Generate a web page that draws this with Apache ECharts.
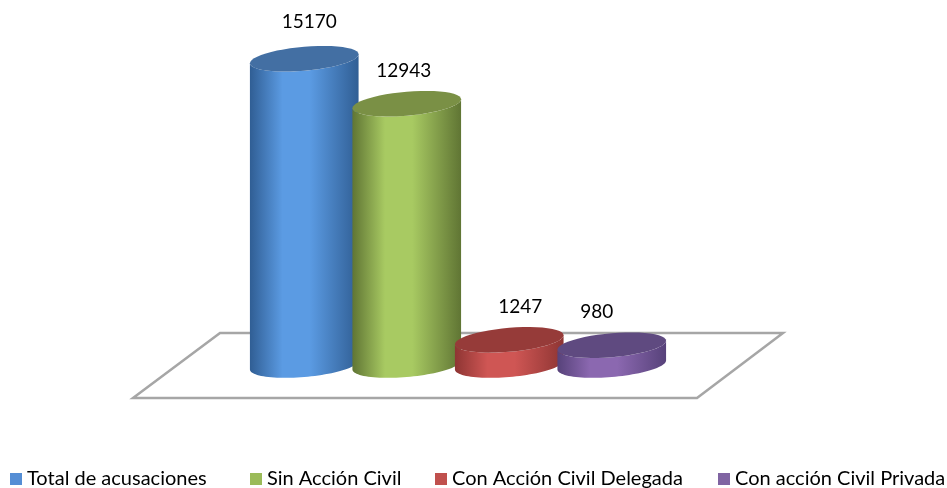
<!DOCTYPE html>
<html>
<head>
<meta charset="utf-8">
<style>
html,body{margin:0;padding:0;background:#fff;}
#chart{width:947px;height:488px;}
</style>
<script src="https://cdn.jsdelivr.net/npm/echarts@6/dist/echarts.min.js"></script>
</head>
<body>
<div id="chart"></div>
<script>
//数据
var categories=["Total de acusaciones","Sin Acción Civil","Con Acción Civil Delegada","Con acción Civil Privada"];
var values=[15170,12943,1247,980];

//颜色: 图例, 柱子边缘, 柱子中间, 顶面
var legendColors=['#558ed5','#9bbb59','#c0504d','#8064a2'];
var edgeColors=['#305e94','#607534','#8e3533','#57427a'];
var midColors=['#5b9be3','#a8ca62','#cf5654','#8b68b0'];
var topColors=['#436fa3','#7a9045','#963b39','#5f4a80'];
//图例和数值标签的位置
var legendLeft=[5,245,430,713];
var labelDx=[5,-3,11,-15];
var labelDy=[-37,-33,-33,-33];

var mychart=echarts.init(document.getElementById("chart"));

//椭圆上的点, 向右上方倾斜
function ellipsePoint(cx,cy,a,t){
    var b=12,lift=4.5;
    return [cx+a*Math.cos(t),cy+b*Math.sin(t)-lift*Math.cos(t)];
}
function ellipsePoints(cx,cy,a,from,to){
    var pts=[];
    for(var i=0;i<=48;i++){
        pts.push(ellipsePoint(cx,cy,a,from+(to-from)*i/48));
    }
    return pts;
}
function renderCylinder(params,api){
    var idx=params.seriesIndex;
    var top=api.coord([api.value(0),api.value(1)]);
    var base=api.coord([api.value(0),0]);
    var a=api.size([1,0])[0]*0.53;
    //柱身: 底面下半圈 + 顶面下半圈
    var body=ellipsePoints(base[0],base[1],a,0,Math.PI)
        .concat(ellipsePoints(top[0],top[1],a,Math.PI,0));
    return {
        type:'group',
        children:[
            {
                type:'polygon',
                shape:{points:body},
                style:{
                    fill:new echarts.graphic.LinearGradient(0,0,1,0,[
                        {offset:0,color:edgeColors[idx]},
                        {offset:0.3,color:midColors[idx]},
                        {offset:0.55,color:midColors[idx]},
                        {offset:1,color:edgeColors[idx]}
                    ])
                }
            },
            {
                type:'polygon',
                shape:{points:ellipsePoints(top[0],top[1],a,0,Math.PI*2)},
                style:{fill:topColors[idx]}
            },
            {
                type:'text',
                x:top[0]+labelDx[idx],
                y:top[1]+labelDy[idx],
                style:{
                    text:String(api.value(1)),
                    fill:'#000',
                    font:'19px Lato',
                    align:'center',
                    verticalAlign:'middle'
                }
            }
        ]
    };
}

var seriesList=[];
var legendList=[];
for(var i=0;i<categories.length;i++){
    seriesList.push({
        name:categories[i],
        type:'custom',
        renderItem:renderCylinder,
        itemStyle:{color:legendColors[i]},
        encode:{x:0,y:1},
        data:[[i,values[i]]],
        z:2+i
    });
    legendList.push({
        data:[categories[i]],
        left:legendLeft[i],
        top:464,
        icon:'rect',
        itemWidth:12,
        itemHeight:12,
        textStyle:{color:'#000',fontSize:20,fontFamily:'Lato'}
    });
}

var option={
    animation:false,
    backgroundColor:'#fff',
    grid:{left:253,width:410,top:42,height:323},
    xAxis:{type:'category',data:categories,show:false},
    yAxis:{type:'value',min:0,max:16000,show:false},
    legend:legendList,
    graphic:[{
        type:'polygon',
        z:0,
        shape:{points:[[220,333],[783,333],[697,398],[133,398]]},
        style:{fill:'#fff',stroke:'#a6a6a6',lineWidth:2.5}
    }],
    series:seriesList
};
mychart.setOption(option);
</script>
</body>
</html>
